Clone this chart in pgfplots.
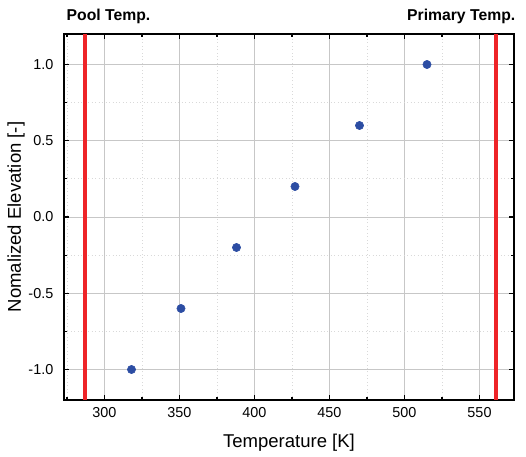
\documentclass[border=0pt]{standalone}
\usepackage{pgfplots}
\pgfplotsset{compat=1.18}
\usepackage{fontspec}
\setmainfont{Liberation Sans}
\definecolor{ptblue}{RGB}{44,77,163}
\definecolor{vred}{RGB}{238,36,40}
\begin{document}
\begin{tikzpicture}
\begin{axis}[
  scale only axis,
  width=337.5pt, height=274.5pt,
  xmin=273, xmax=573, ymin=-1.2, ymax=1.2,
  clip=false,
  axis line style={black, line width=1.3pt},
  xtick={300,350,...,550},
  minor xtick={275,325,...,575},
  ytick={-1,-0.5,0,0.5,1},
  minor ytick={-0.75,-0.25,0.25,0.75},
  tick align=inside,
  tick pos=both,
  major tick length=4pt,
  minor tick length=2.2pt,
  every tick/.style={black, line width=0.9pt},
  grid=both,
  major grid style={color=black!22, line width=0.7pt},
  minor grid style={color=black!15, line width=0.6pt, dotted},
  /pgf/number format/assume math mode=true,
  /pgf/number format/.cd, fixed, fixed zerofill, precision=1, /pgfplots/.cd,
  xticklabel={\pgfmathprintnumber[fixed, precision=0]{\tick}},
  ticklabel style={font=\fontsize{10.8}{12}\selectfont},
  yticklabel style={xshift=-4.5pt},
  xticklabel style={yshift=-1.8pt},
  xlabel={Temperature [K]},
  ylabel={Nomalized Elevation [-]},
  label style={font=\fontsize{13.9}{16}\selectfont},
  xlabel style={at={(axis description cs:0.5,-0.131)}, anchor=base},
  ylabel style={at={(axis description cs:-0.0956,0.5)}, anchor=base, rotate=0},
]
\addplot[vred, line width=3pt] coordinates {(287,-1.2) (287,1.2)};
\addplot[vred, line width=3pt] coordinates {(561,-1.2) (561,1.2)};
\addplot[only marks, mark=*, mark size=3.1pt, mark options={fill=ptblue, draw=ptblue}]
  coordinates {(318,-1.0) (351,-0.6) (388,-0.2) (427,0.2) (470,0.6) (515,1.0)};
\node[anchor=base west, font=\fontsize{11.8}{14}\selectfont\bfseries] at (axis description cs:-0.0044,1.038) {Pool Temp.};
\node[anchor=base east, font=\fontsize{11.8}{14}\selectfont\bfseries] at (axis description cs:1.0133,1.038) {Primary Temp.};
\coordinate (A) at (rel axis cs:0,0);
\coordinate (B) at (rel axis cs:1,1);
\end{axis}
\path ([shift={(-48pt,-42.75pt)}]A) rectangle ([shift={(9pt,25.5pt)}]B);
\end{tikzpicture}
\end{document}
